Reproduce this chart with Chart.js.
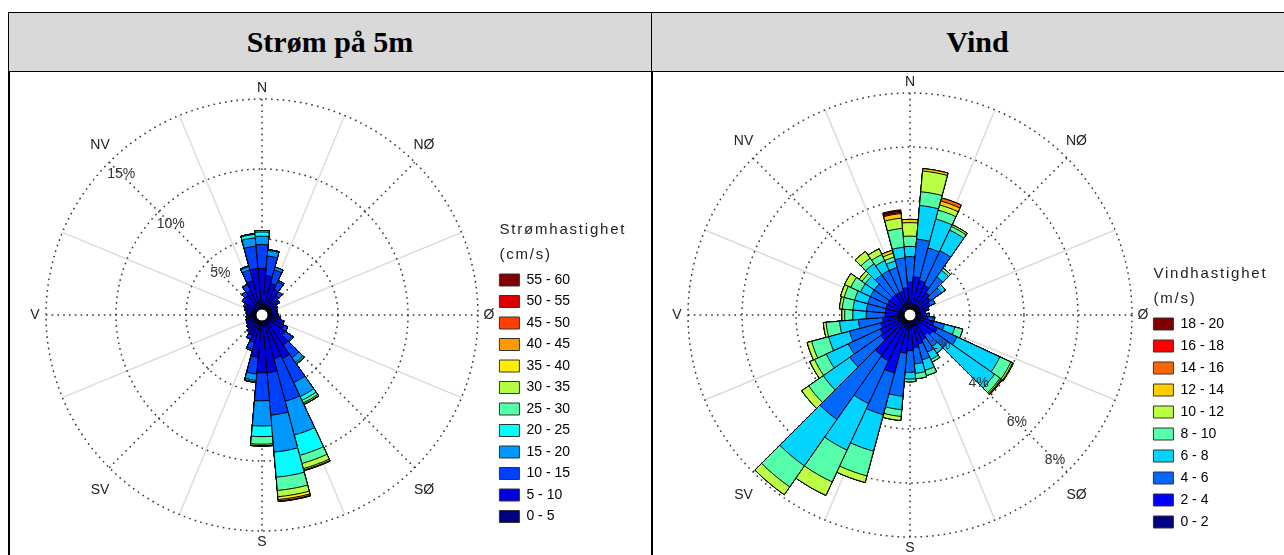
<!DOCTYPE html>
<html>
<head>
<meta charset="utf-8">
<script src="https://cdn.jsdelivr.net/npm/chart.js@4.4.1/dist/chart.umd.min.js"></script>
<style>
  html, body { margin: 0; padding: 0; background: #fff; width: 1284px; height: 555px; overflow: hidden; }
  .hdr { position: absolute; top: 12px; height: 60px; box-sizing: border-box;
         background: #d9d9d9; border-top: 1px solid #000; border-bottom: 1px solid #000;
         display: flex; align-items: center; justify-content: center;
         font-family: "Liberation Serif", "Times New Roman", serif; font-weight: bold; font-size: 30px; color: #000; }
  #h1 { left: 8px; width: 644px; border-left: 1px solid #000; border-right: 1px solid #000; }
  #h2 { left: 652px; width: 652px; border-right: 1px solid #000; }
  .vline { position: absolute; top: 72px; height: 483px; width: 2px; background: #000; }
  canvas { position: absolute; top: 72px; }
  #c1 { left: 10px; }
  #c2 { left: 653px; }
</style>
</head>
<body>
<div class="hdr" id="h1">Strøm på 5m</div>
<div class="hdr" id="h2">Vind</div>
<div class="vline" style="left:8px"></div>
<div class="vline" style="left:651px"></div>
<canvas id="c1" width="641" height="483"></canvas>
<canvas id="c2" width="631" height="483"></canvas>
<script>
// Direction sectors, 10° wide, clockwise from north
const directions = ['0°','10°','20°','30°','40°','50°','60°','70°','80°','90°','100°','110°',
  '120°','130°','140°','150°','160°','170°','180°','190°','200°','210°','220°','230°',
  '240°','250°','260°','270°','280°','290°','300°','310°','320°','330°','340°','350°'];

// ---- Current at 5 m: frequency (%) per direction for each speed class (cm/s)
const currentClasses = ['0 - 5','5 - 10','10 - 15','15 - 20','20 - 25','25 - 30','30 - 35','35 - 40','40 - 45','45 - 50','50 - 55','55 - 60'];
const currentColors  = ['#000080','#0000dd','#0040ff','#0098ff','#00ffff','#55ffaa','#b4ff46','#ffee00','#ff9900','#ff4000','#dd0000','#800000'];
const cur0_5   = [0.3,0.3,0.3,0.3,0.3,0.3,0.25,0.25,0.25,0.25,0.3,0.3,0.3,0.3,0.3,0.3,0.3,0.3,0.3,0.3,0.3,0.3,0.3,0.3,0.3,0.25,0.25,0.25,0.25,0.3,0.3,0.3,0.3,0.3,0.3,0.3];
const cur5_10  = [2.6,2.1,1.6,1.3,1.0,0.7,0.55,0.45,0.4,0.45,0.6,0.8,1.0,1.3,1.9,2.7,2.5,3.4,3.4,2.3,1.3,0.9,0.7,0.6,0.5,0.5,0.45,0.4,0.45,0.55,0.6,0.85,1.0,1.2,1.8,2.6];
const cur10_15 = [1.7,1.4,1.0,0.6,0.3,0.1,0,0,0,0,0,0.1,0.3,0.6,1.1,1.9,3.15,3.05,2.0,1.2,0.5,0.25,0.1,0,0,0,0,0,0,0,0.1,0.15,0.3,0.45,0.8,1.6];
const cur15_20 = [0.6,0.4,0.2,0.1,0,0,0,0,0,0,0,0,0,0.1,0.4,1.1,2.5,2.65,1.8,0.45,0.1,0.05,0,0,0,0,0,0,0,0,0,0,0,0.05,0.25,0.6];
const cur20_25 = [0.3,0.05,0,0,0,0,0,0,0,0,0,0,0,0,0.1,0.3,1.5,1.8,0.76,0.1,0,0,0,0,0,0,0,0,0,0,0,0,0,0,0.05,0.25];
const cur25_30 = [0.1,0,0,0,0,0,0,0,0,0,0,0,0,0,0.05,0.2,0.6,0.95,0.54,0.05,0,0,0,0,0,0,0,0,0,0,0,0,0,0,0,0.05];
const cur30_35 = [0,0,0,0,0,0,0,0,0,0,0,0,0,0,0,0.1,0.38,0.45,0.1,0,0,0,0,0,0,0,0,0,0,0,0,0,0,0,0,0];
const cur35_40 = [0,0,0,0,0,0,0,0,0,0,0,0,0,0,0,0.03,0.1,0.2,0.03,0,0,0,0,0,0,0,0,0,0,0,0,0,0,0,0,0];
const cur40_45 = [0,0,0,0,0,0,0,0,0,0,0,0,0,0,0,0,0.05,0.1,0,0,0,0,0,0,0,0,0,0,0,0,0,0,0,0,0,0];
const cur45_50 = [0,0,0,0,0,0,0,0,0,0,0,0,0,0,0,0,0,0.05,0,0,0,0,0,0,0,0,0,0,0,0,0,0,0,0,0,0];
const cur50_55 = [0,0,0,0,0,0,0,0,0,0,0,0,0,0,0,0,0,0,0,0,0,0,0,0,0,0,0,0,0,0,0,0,0,0,0,0];
const cur55_60 = [0,0,0,0,0,0,0,0,0,0,0,0,0,0,0,0,0,0,0,0,0,0,0,0,0,0,0,0,0,0,0,0,0,0,0,0];
const currentRings = [5, 10, 15];
const currentRingLabels = ['5%', '10%', '15%'];

// ---- Wind: frequency (%) per direction for each speed class (m/s)
const windClasses = ['0 - 2','2 - 4','4 - 6','6 - 8','8 - 10','10 - 12','12 - 14','14 - 16','16 - 18','18 - 20'];
const windColors  = ['#000080','#0000ff','#0068ff','#00d4ff','#55ffaa','#bbff44','#ffcc00','#ff6600','#ff0000','#800000'];
const wind0_2   = [0.2,0.2,0.2,0.2,0.2,0.2,0.2,0.15,0.15,0.15,0.15,0.2,0.2,0.2,0.2,0.2,0.2,0.2,0.2,0.2,0.2,0.2,0.2,0.2,0.2,0.2,0.2,0.2,0.2,0.2,0.2,0.2,0.2,0.2,0.2,0.2];
const wind2_4   = [0.8,1.0,0.9,0.8,0.6,0.5,0.4,0.3,0.2,0.25,0.3,0.5,0.7,0.6,0.5,0.6,0.7,0.8,0.9,1.0,1.8,1.45,1.4,0.9,0.8,0.7,0.6,0.5,0.5,0.5,0.5,0.5,0.5,0.5,0.5,0.6];
const wind4_6   = [0.94,1.4,1.25,1.4,0.7,0.5,0.2,0.05,0,0.1,0.2,0.4,0.8,0.7,0.5,0.5,0.6,0.6,0.8,1.6,1.6,1.75,2.9,1.4,1.3,1.2,0.9,0.7,0.7,0.7,0.7,0.7,0.9,0.9,0.9,1.1];
const wind6_8   = [0.38,1.25,1.11,0.85,0.3,0.18,0,0,0,0,0.05,0.4,1.75,2.1,0.3,0.3,0.4,0.35,0.25,0.5,1.4,1.9,2.1,1.2,0.9,0.8,0.7,0.5,0.5,0.5,0.4,0.4,0.5,0.4,0.25,0.4];
const wind8_10  = [0.38,0.51,0.34,0.15,0.1,0,0,0,0,0,0,0.3,0.45,0.25,0,0.1,0.2,0.2,0.1,0.25,0.95,1.3,0.95,0.66,0.48,0.65,0.5,0.3,0.4,0.4,0.4,0.15,0.25,0.25,0.15,0.7];
const wind10_12 = [0.5,0.77,0.2,0.07,0,0,0,0,0,0,0,0,0.07,0.05,0,0,0,0,0,0.15,0.25,0.55,0.35,0.31,0.19,0.17,0.1,0.1,0.1,0.14,0.25,0.13,0.3,0.23,0.15,0.38];
const wind12_14 = [0.12,0.09,0.15,0,0,0,0,0,0,0,0,0,0.03,0.03,0,0,0,0,0,0,0,0,0,0,0,0,0,0,0,0,0,0,0,0,0.11,0.17];
const wind14_16 = [0,0,0.12,0,0,0,0,0,0,0,0,0,0,0.02,0,0,0,0,0,0,0,0,0,0,0,0,0,0,0,0,0,0,0,0,0,0.04];
const wind16_18 = [0,0,0,0,0,0,0,0,0,0,0,0,0,0,0,0,0,0,0,0,0,0,0,0,0,0,0,0,0,0,0,0,0,0,0,0.05];
const wind18_20 = [0,0,0,0,0,0,0,0,0,0,0,0,0,0,0,0,0,0,0,0,0,0,0,0,0,0,0,0,0,0,0,0,0,0,0,0.05];
const windRings = [2, 4, 6, 8];
const windRingLabels = ['2%', '4%', '6%', '8%'];

const compass = ['N', 'NØ', 'Ø', 'SØ', 'S', 'SV', 'V', 'NV'];
const SANS = '"Liberation Sans", Arial, sans-serif';

// Each speed class is drawn as a wedge reaching the running total, the largest underneath.
function stackedDatasets(bins, classes, colors) {
  const total = new Array(directions.length).fill(0);
  return bins.map((bin, k) => ({
    label: classes[k],
    data: bin.map((v, i) => (total[i] += v)),
    backgroundColor: colors[k],
    borderColor: '#000',
    borderWidth: 1
  }));
}

// Grid rings, compass spokes, hub, ring and compass labels, legend heading
const roseDecor = {
  id: 'roseDecor',
  beforeDatasetsDraw(chart, args, o) {
    const s = chart.scales.r, ctx = chart.ctx;
    const cx = s.xCenter, cy = s.yCenter, R = s.getDistanceFromCenterForValue(s.max);
    ctx.save();
    ctx.strokeStyle = '#dcdcdc';
    ctx.lineWidth = 1.5;
    for (let k = 0; k < 8; k++) {
      const a = (22.5 + 45 * k) * Math.PI / 180;
      ctx.beginPath(); ctx.moveTo(cx, cy); ctx.lineTo(cx + R * Math.sin(a), cy - R * Math.cos(a)); ctx.stroke();
    }
    ctx.strokeStyle = '#333';
    ctx.lineWidth = 1.5;
    ctx.setLineDash([1.6, 4.2]);
    o.rings.forEach(v => {
      ctx.beginPath(); ctx.arc(cx, cy, s.getDistanceFromCenterForValue(v), 0, Math.PI * 2); ctx.stroke();
    });
    for (let k = 0; k < 8; k++) {
      const a = 45 * k * Math.PI / 180;
      ctx.beginPath(); ctx.moveTo(cx, cy); ctx.lineTo(cx + R * Math.sin(a), cy - R * Math.cos(a)); ctx.stroke();
    }
    ctx.restore();
  },
  afterDatasetsDraw(chart, args, o) {
    const s = chart.scales.r, ctx = chart.ctx;
    const cx = s.xCenter, cy = s.yCenter, R = s.getDistanceFromCenterForValue(s.max);
    ctx.save();
    // hub
    ctx.beginPath();
    ctx.arc(cx, cy, s.getDistanceFromCenterForValue(0), 0, Math.PI * 2);
    ctx.fillStyle = '#fff'; ctx.fill();
    ctx.strokeStyle = '#000'; ctx.lineWidth = 1; ctx.stroke();
    // ring labels
    ctx.font = '14px ' + SANS;
    ctx.fillStyle = '#333';
    ctx.textAlign = 'center';
    ctx.textBaseline = 'middle';
    const la = o.labelAngle * Math.PI / 180;
    o.rings.forEach((v, i) => {
      const r = s.getDistanceFromCenterForValue(v) - 17;
      ctx.fillText(o.ringLabels[i], cx + r * Math.sin(la), cy - r * Math.cos(la));
    });
    // compass labels
    ctx.fillStyle = '#222';
    const c = R + 11;
    const pos = [[0, -c], [0.75 * R, -0.785 * R], [c, 0], [0.75 * R, 0.81 * R],
                 [0, c], [-0.75 * R, 0.81 * R], [-c, 0], [-0.75 * R, -0.785 * R]];
    compass.forEach((t, i) => ctx.fillText(t, cx + pos[i][0], cy + pos[i][1]));
    ctx.restore();
  },
  afterDraw(chart, args, o) {
    const hb = chart.legend && chart.legend.legendHitBoxes && chart.legend.legendHitBoxes[0];
    if (!hb) return;
    const ctx = chart.ctx;
    ctx.save();
    ctx.font = '15px ' + SANS;
    if ('letterSpacing' in ctx) ctx.letterSpacing = '1.8px';
    ctx.fillStyle = '#222';
    ctx.textAlign = 'left';
    ctx.textBaseline = 'middle';
    const y0 = hb.top + hb.height / 2;
    ctx.fillText(o.title[0], hb.left, y0 - 50);
    ctx.fillText(o.title[1], hb.left, y0 - 25);
    ctx.restore();
  }
};

function roseChart(canvas, bins, classes, colors, rings, ringLabels, labelAngle, maxPct, hubPct, title, pad, itemPad) {
  return new Chart(canvas, {
    type: 'polarArea',
    data: { labels: directions, datasets: stackedDatasets(bins, classes, colors) },
    options: {
      responsive: false,
      animation: false,
      events: [],
      layout: { padding: pad },
      scales: {
        r: {
          min: -hubPct, max: maxPct, startAngle: -5,
          ticks: { display: false },
          grid: { display: false },
          angleLines: { display: false },
          pointLabels: { display: false }
        }
      },
      plugins: {
        tooltip: { enabled: false },
        legend: {
          position: 'right',
          align: 'end',
          labels: {
            boxWidth: 20, boxHeight: 12, padding: itemPad, color: '#222',
            font: { family: SANS, size: 14 },
            generateLabels: (ch) => ch.data.datasets.map((ds, i) => ({
              text: ds.label, fillStyle: ds.backgroundColor, strokeStyle: '#333',
              lineWidth: 1, hidden: false, datasetIndex: i
            })).reverse()
          }
        },
        roseDecor: { rings, ringLabels, labelAngle, title }
      }
    },
    plugins: [roseDecor]
  });
}

roseChart(document.getElementById('c1'),
  [cur0_5, cur5_10, cur10_15, cur15_20, cur20_25, cur25_30, cur30_35, cur35_40, cur40_45, cur45_50, cur50_55, cur55_60],
  currentClasses, currentColors, currentRings, currentRingLabels, 315, 15, 0.43,
  ['Strømhastighet', '(cm/s)'], { left: 23, right: 71, top: 27, bottom: 24 }, 7.5);

roseChart(document.getElementById('c2'),
  [wind0_2, wind2_4, wind4_6, wind6_8, wind8_10, wind10_12, wind12_14, wind14_16, wind16_18, wind18_20],
  windClasses, windColors, windRings, windRingLabels, 135, 8, 0.22,
  ['Vindhastighet', '(m/s)'], { left: 22, right: 50, top: 21, bottom: 18 }, 8);
</script>
</body>
</html>
